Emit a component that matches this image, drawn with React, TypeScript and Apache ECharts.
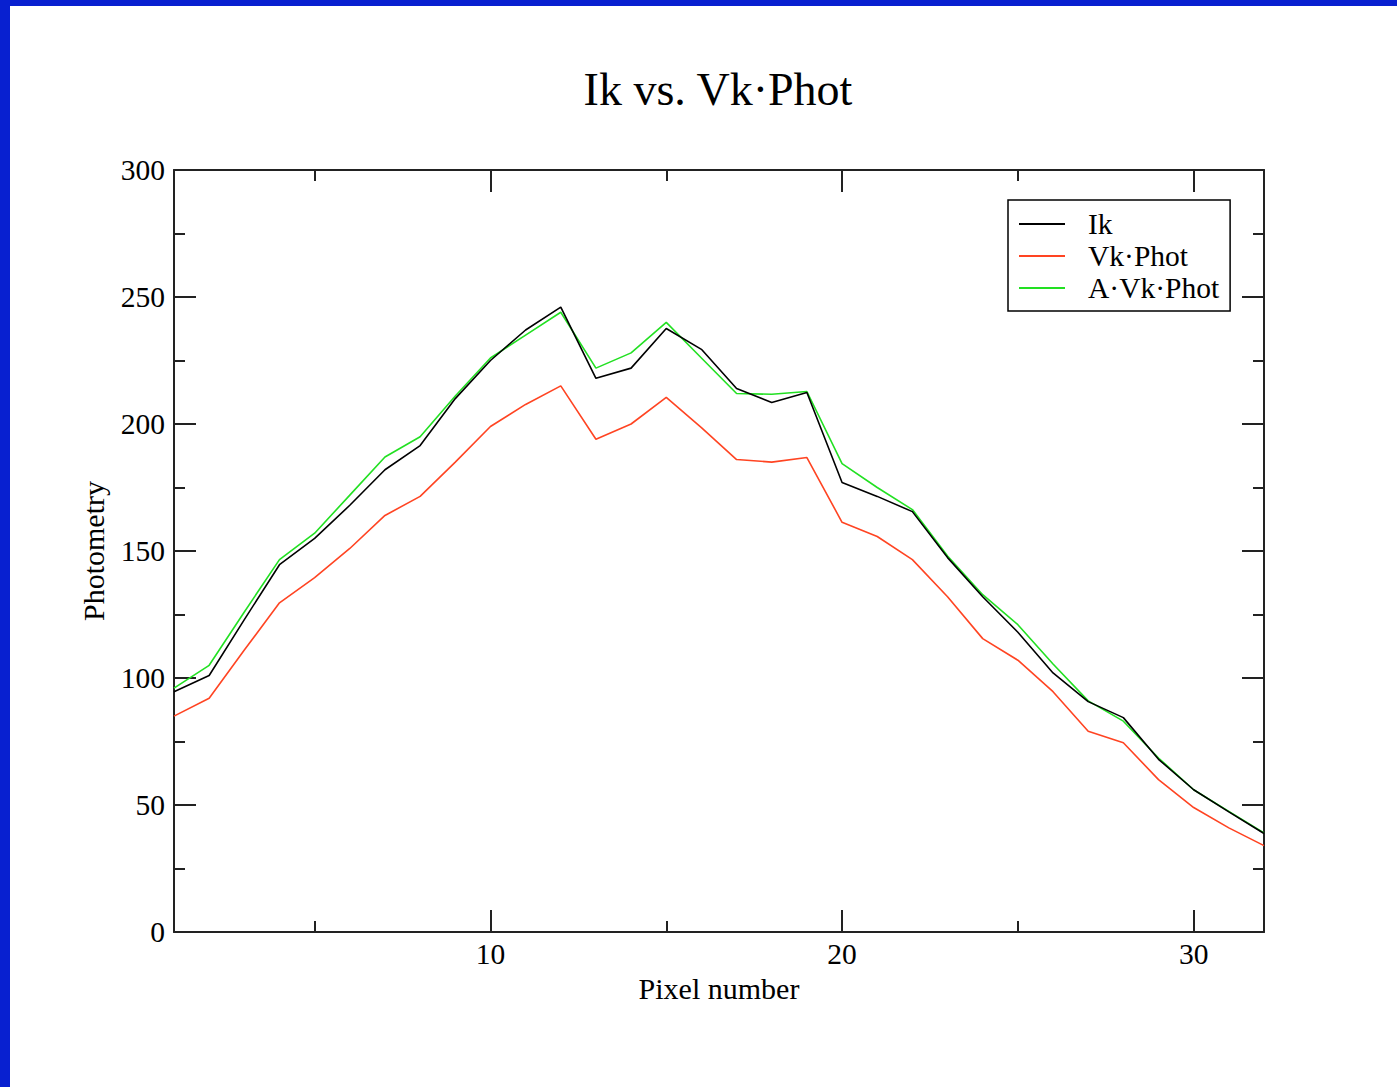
import React, { useEffect, useRef } from "react";
import * as echarts from "echarts";

const pixels = [1, 2, 3, 4, 5, 6, 7, 8, 9, 10, 11, 12, 13, 14, 15, 16, 17, 18, 19, 20, 21, 22, 23, 24, 25, 26, 27, 28, 29, 30, 31, 32];
const ik = [94.6, 101, 123, 144.6, 155, 168, 182, 191.5, 210, 225, 237, 246, 218, 222, 237.6, 229.4, 214, 208.5, 212.4, 177, 171.5, 165.5, 147.4, 132, 118, 102, 90.7, 84.4, 68, 56, 47.3, 38.8];
const vkPhot = [85, 92, 111, 129.6, 139.5, 151, 164, 171.5, 185, 199, 207.7, 215, 194, 200, 210.5, 198.6, 186, 185, 186.8, 161.3, 155.7, 146.6, 132, 115.5, 107, 94.6, 79, 74.5, 60, 49, 41, 34];
const aVkPhot = [96, 105, 126, 146.6, 157, 172, 187, 195, 211, 226, 235, 244, 222, 228, 240, 226, 212, 211.7, 212.8, 184.4, 175, 166.3, 148, 132.8, 121, 105.5, 91, 83, 68.5, 56, 47.5, 39];
const xMajorTicks = [10, 20, 30];
const xMinorTicks = [5, 15, 25];
const seriesNames = ["Ik", "Vk·Phot", "A·Vk·Phot"];
const seriesColors = ["#000000", "#ff4422", "#22e022"];

const FONT = "Liberation Serif";
const AXIS_COLOR = "#222";

export default function App() {
  const ref = useRef<HTMLDivElement>(null);
  useEffect(() => {
    if (!ref.current) return;
    const chart = echarts.init(ref.current, null, { renderer: "svg" });
    const pair = (ys: number[]) => pixels.map((x, i) => [x, ys[i]]);
    const baseX = {
      type: "value",
      min: 1,
      max: 32,
      splitLine: { show: false },
    };
    const option: any = {
      animation: false,
      backgroundColor: "#ffffff",
      title: {
        text: "Ik vs. Vk·Phot",
        left: 713,
        top: 61,
        textAlign: "center",
        textStyle: { fontFamily: FONT, fontSize: 46, fontWeight: "normal", color: "#000" },
      },
      legend: {
        orient: "vertical",
        left: 1008,
        top: 200,
        data: seriesNames,
        icon: "rect",
        itemWidth: 46,
        itemHeight: 2,
        itemGap: 2,
        padding: [9, 11, 8, 11],
        borderColor: "#000",
        borderWidth: 1.5,
        borderRadius: 0,
        textStyle: { fontFamily: FONT, fontSize: 29.5, color: "#000", lineHeight: 30, padding: [0, 0, 0, 18] },
      },
      grid: { left: 174, top: 170, width: 1090, height: 762, containLabel: false },
      xAxis: [
        {
          ...baseX,
          position: "bottom",
          name: "Pixel number",
          nameLocation: "middle",
          nameGap: 35,
          nameTextStyle: { fontFamily: FONT, fontSize: 30, color: "#000" },
          axisLine: { show: true, lineStyle: { color: AXIS_COLOR, width: 2 } },
          axisTick: { show: true, inside: true, length: 22, customValues: xMajorTicks, lineStyle: { color: AXIS_COLOR, width: 2 } },
          axisLabel: { show: true, customValues: xMajorTicks, margin: 7, fontFamily: FONT, fontSize: 29.5, color: "#000" },
        },
        {
          ...baseX,
          position: "bottom",
          axisLine: { show: false },
          axisTick: { show: true, inside: true, length: 11, customValues: xMinorTicks, lineStyle: { color: AXIS_COLOR, width: 2 } },
          axisLabel: { show: false },
        },
        {
          ...baseX,
          position: "top",
          axisLine: { show: true, lineStyle: { color: AXIS_COLOR, width: 2 } },
          axisTick: { show: true, inside: true, length: 22, customValues: xMajorTicks, lineStyle: { color: AXIS_COLOR, width: 2 } },
          axisLabel: { show: false },
        },
        {
          ...baseX,
          position: "top",
          axisLine: { show: false },
          axisTick: { show: true, inside: true, length: 11, customValues: xMinorTicks, lineStyle: { color: AXIS_COLOR, width: 2 } },
          axisLabel: { show: false },
        },
      ],
      yAxis: [
        {
          type: "value",
          position: "left",
          min: 0,
          max: 300,
          interval: 50,
          name: "Photometry",
          nameLocation: "middle",
          nameGap: 66,
          nameTextStyle: { fontFamily: FONT, fontSize: 30, color: "#000" },
          splitLine: { show: false },
          axisLine: { show: true, lineStyle: { color: AXIS_COLOR, width: 2 } },
          axisTick: { show: true, inside: true, length: 22, lineStyle: { color: AXIS_COLOR, width: 2 } },
          minorTick: { show: true, splitNumber: 2, length: 11, lineStyle: { color: AXIS_COLOR, width: 2 } },
          axisLabel: { show: true, margin: 9, fontFamily: FONT, fontSize: 29.5, color: "#000" },
        },
        {
          type: "value",
          position: "right",
          min: 0,
          max: 300,
          interval: 50,
          splitLine: { show: false },
          axisLine: { show: true, lineStyle: { color: AXIS_COLOR, width: 2 } },
          axisTick: { show: true, inside: true, length: 22, lineStyle: { color: AXIS_COLOR, width: 2 } },
          minorTick: { show: true, splitNumber: 2, length: 11, lineStyle: { color: AXIS_COLOR, width: 2 } },
          axisLabel: { show: false },
        },
      ],
      series: [ik, vkPhot, aVkPhot].map((ys, i) => ({
        name: seriesNames[i],
        type: "line",
        xAxisIndex: 0,
        yAxisIndex: 0,
        data: pair(ys),
        showSymbol: false,
        symbol: "none",
        color: seriesColors[i],
        lineStyle: { color: seriesColors[i], width: 1.6 },
        z: 3 - i,
      })),
      graphic: [
        { type: "rect", shape: { x: 0, y: 0, width: 1397, height: 6 }, style: { fill: "#0820d0" }, z: 100 },
        { type: "rect", shape: { x: 0, y: 0, width: 10, height: 1087 }, style: { fill: "#0820d0" }, z: 100 },
      ],
    };
    chart.setOption(option);
    return () => chart.dispose();
  }, []);
  return (
    <div
      ref={ref}
      style={{ position: "absolute", left: 0, top: 0, width: 1397, height: 1087 }}
    />
  );
}
